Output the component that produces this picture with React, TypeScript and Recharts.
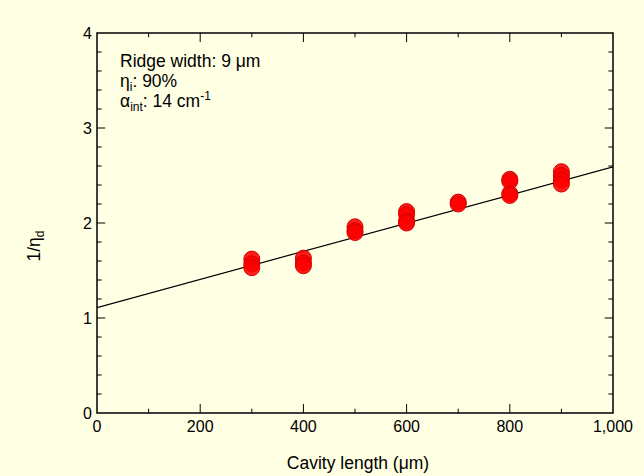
import React from 'react';
import {
  ComposedChart,
  Scatter,
  Line,
  XAxis,
  YAxis,
  ReferenceLine,
  ReferenceArea,
} from 'recharts';

// ---- data ----
const cavityLength = [
  300, 300, 300,
  400, 400, 400,
  500, 500, 500,
  600, 600, 600, 600,
  700, 700,
  800, 800, 800, 800,
  900, 900, 900, 900,
];
const inverseEta = [
  1.62, 1.57, 1.53,
  1.63, 1.58, 1.55,
  1.96, 1.92, 1.9,
  2.12, 2.09, 2.02, 2.0,
  2.22, 2.2,
  2.46, 2.44, 2.31, 2.29,
  2.54, 2.5, 2.45, 2.41,
];
const fitX = [0, 1000];
const fitY = [1.11, 2.59];

const xMajorTicks = [0, 200, 400, 600, 800, 1000];
const xMinorTicks = [100, 300, 500, 700, 900];
const yMajorTicks = [0, 1, 2, 3, 4];
const yMinorTicks = [0.2, 0.4, 0.6, 0.8, 1.2, 1.4, 1.6, 1.8, 2.2, 2.4, 2.6, 2.8, 3.2, 3.4, 3.6, 3.8];

const points = cavityLength.map((x, i) => ({ x, y: inverseEta[i] }));
const fitLine = fitX.map((x, i) => ({ x, y: fitY[i] }));

const BG = '#FFFFE4';
const FONT = '"Liberation Sans", Arial, sans-serif';

// tick lengths in data units
const X_MAJOR_LEN = 0.095; // y units
const X_MINOR_LEN = 0.045;
const Y_MAJOR_LEN = 16; // x units
const Y_MINOR_LEN = 9;

const Dot = (props: any) => {
  const { cx, cy } = props;
  if (cx == null || cy == null) return null;
  return (
    <circle cx={cx} cy={cy} r={8} fill="#ff0000" fillOpacity={0.88} stroke="#d40000" strokeWidth={1} />
  );
};

const fmt = (v: number) => v.toLocaleString('en-US');

const subStyle: React.CSSProperties = { fontSize: 12, verticalAlign: 'baseline', position: 'relative', top: 4, lineHeight: 0 };
const supStyle: React.CSSProperties = { fontSize: 12, verticalAlign: 'baseline', position: 'relative', top: -7, lineHeight: 0 };

export default function App() {
  const tickLines: React.ReactNode[] = [];
  xMajorTicks.concat(xMinorTicks).forEach((v) => {
    const len = xMajorTicks.includes(v) ? X_MAJOR_LEN : X_MINOR_LEN;
    if (v === 0 || v === 1000) return;
    tickLines.push(
      <ReferenceLine key={`xb${v}`} segment={[{ x: v, y: 0 }, { x: v, y: len }]} stroke="#000" strokeWidth={1} ifOverflow="visible" />,
      <ReferenceLine key={`xt${v}`} segment={[{ x: v, y: 4 }, { x: v, y: 4 - len }]} stroke="#000" strokeWidth={1} ifOverflow="visible" />
    );
  });
  yMajorTicks.concat(yMinorTicks).forEach((v) => {
    const len = yMajorTicks.includes(v) ? Y_MAJOR_LEN : Y_MINOR_LEN;
    if (v === 0 || v === 4) return;
    tickLines.push(
      <ReferenceLine key={`yl${v}`} segment={[{ x: 0, y: v }, { x: len, y: v }]} stroke="#000" strokeWidth={1} ifOverflow="visible" />,
      <ReferenceLine key={`yr${v}`} segment={[{ x: 1000, y: v }, { x: 1000 - len, y: v }]} stroke="#000" strokeWidth={1} ifOverflow="visible" />
    );
  });

  return (
    <div style={{ position: 'absolute', left: 0, top: 0, width: 644, height: 476, background: BG, fontFamily: FONT }}>
      <ComposedChart
        width={644}
        height={476}
        margin={{ top: 33, right: 31, bottom: 0, left: 37 }}
        style={{ fontFamily: FONT }}
      >
        <XAxis
          type="number"
          dataKey="x"
          domain={[0, 1000]}
          ticks={xMajorTicks}
          tickFormatter={fmt}
          tickLine={false}
          axisLine={false}
          tickSize={0}
          tickMargin={8}
          height={63}
          tick={{ fill: '#000', fontSize: 16 }}
          allowDataOverflow
        />
        <YAxis
          type="number"
          dataKey="y"
          domain={[0, 4]}
          ticks={yMajorTicks}
          tickLine={false}
          axisLine={false}
          tickSize={0}
          tickMargin={5}
          width={60}
          tick={{ fill: '#000', fontSize: 16 }}
          allowDataOverflow
        />
        <ReferenceArea x1={0} x2={1000} y1={0} y2={4} fill="none" stroke="#000" strokeWidth={1.5} ifOverflow="visible" />
        {tickLines}
        <Scatter data={points} dataKey="y" shape={<Dot />} isAnimationActive={false} />
        <Line
          data={fitLine}
          dataKey="y"
          type="linear"
          stroke="#000"
          strokeWidth={1.2}
          dot={false}
          activeDot={false}
          isAnimationActive={false}
        />
      </ComposedChart>

      {/* annotation */}
      <div style={{ position: 'absolute', left: 120, top: 51, fontSize: 17.5, lineHeight: '20px', color: '#000' }}>
        <div>Ridge width: 9 μm</div>
        <div>
          η<span style={subStyle}>i</span>: 90%
        </div>
        <div>
          α<span style={subStyle}>int</span>: 14 cm<span style={supStyle}>-1</span>
        </div>
      </div>

      {/* x axis title */}
      <div style={{ position: 'absolute', left: 0, width: 716, top: 453, textAlign: 'center', fontSize: 17.5, color: '#000' }}>
        Cavity length (μm)
      </div>

      {/* y axis title */}
      <div
        style={{
          position: 'absolute',
          left: 34,
          top: 246,
          transform: 'translate(-50%, -50%) rotate(-90deg)',
          fontSize: 17.5,
          color: '#000',
          whiteSpace: 'nowrap',
          lineHeight: '20px',
        }}
      >
        1/η<span style={subStyle}>d</span>
      </div>
    </div>
  );
}
